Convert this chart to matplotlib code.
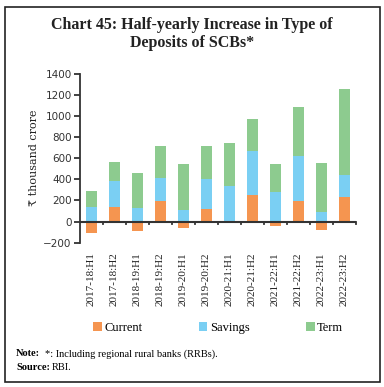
import matplotlib as mpl
mpl.use('Agg')
import matplotlib.pyplot as plt
import numpy as np
from matplotlib.patches import Rectangle

# data (₹ thousand crore)
periods = ['2017-18:H1', '2017-18:H2', '2018-19:H1', '2018-19:H2',
           '2019-20:H1', '2019-20:H2', '2020-21:H1', '2020-21:H2',
           '2021-22:H1', '2021-22:H2', '2022-23:H1', '2022-23:H2']
current = [-104, 136, -85, 193, -57, 120, 3, 252, -38, 196, -78, 231]
savings = [142, 251, 132, 223, 110, 283, 334, 419, 284, 425, 95, 210]
term = [148, 180, 325, 296, 432, 309, 404, 297, 261, 460, 463, 813]

c_cur = '#F59550'
c_sav = '#7ACFF3'
c_term = '#8DCB8F'

serif = ['Liberation Serif', 'DejaVu Serif']
plt.rcParams['font.family'] = serif

fig = plt.figure(figsize=(3.84, 3.87), dpi=100)
W, H = 384, 387
ax = fig.add_axes([80 / W, 1 - 242.7 / H, 276 / W, (242.7 - 73.5) / H])

x = np.arange(len(periods))
cur = np.array(current)
sav = np.array(savings)
trm = np.array(term)
base = np.clip(cur, 0, None)
bw = 0.45
ax.bar(x, cur, bw, color=c_cur, label='Current')
ax.bar(x, sav, bw, bottom=base, color=c_sav, label='Savings')
ax.bar(x, trm, bw, bottom=base + sav, color=c_term, label='Term')

ax.set_xlim(-0.5, len(periods) - 0.5)
ax.set_ylim(-200, 1400)
ax.set_yticks(range(-200, 1401, 200))
for s in ['top', 'right', 'bottom']:
    ax.spines[s].set_visible(False)
ax.spines['left'].set_color('#333333')
ax.spines['left'].set_linewidth(1.3)
ax.tick_params(axis='y', direction='out', length=4, width=1.3, color='#333333',
               labelsize=8, labelcolor='#333333', pad=2)
for lab in ax.get_yticklabels():
    lab.set_family(['DejaVu Sans'])
    lab.set_fontsize(7.5)

# zero line with category ticks
ax.axhline(0, color='#333333', lw=1.5, zorder=3)
for b in np.arange(-0.5, len(periods), 1.0)[1:]:
    ax.plot([b, b], [0, -22], color='#333333', lw=1.3, clip_on=False, zorder=3)
ax.set_xticks(x)
ax.set_xticklabels(periods, rotation=90, fontsize=8, color='#222222')
ax.tick_params(axis='x', length=0, pad=7)

ax.set_ylabel('₹ thousand crore', family=['DejaVu Serif'], fontsize=8, color='#222222', labelpad=3)

ax.legend(loc='upper center', bbox_to_anchor=(0.5, -0.4), ncol=3, frameon=False,
          fontsize=9, handlelength=0.7, handleheight=0.7, handletextpad=0.2,
          columnspacing=4.5)

fig.text(192 / W, 1 - 25 / H, 'Chart 45: Half-yearly Increase in Type of',
         ha='center', va='center', fontsize=11.5, fontweight='bold', color='#222222')
fig.text(192 / W, 1 - 43 / H, 'Deposits of SCBs*',
         ha='center', va='center', fontsize=11.5, fontweight='bold', color='#222222')

fig.text(16 / W, 1 - 354 / H, 'Note:', ha='left', va='center', fontsize=7.5, fontweight='bold')
fig.text(45 / W, 1 - 354 / H, '*: Including regional rural banks (RRBs).', ha='left', va='center', fontsize=7.5)
fig.text(16 / W, 1 - 368 / H, 'Source:', ha='left', va='center', fontsize=7.5, fontweight='bold')
fig.text(52 / W, 1 - 368 / H, 'RBI.', ha='left', va='center', fontsize=7.5)

fig.patches.append(Rectangle((5 / W, 1 - 382 / H), 375 / W, 375 / H, transform=fig.transFigure,
                             fill=False, ec='#222222', lw=1.2))

fig.savefig('out.png', dpi=100)
